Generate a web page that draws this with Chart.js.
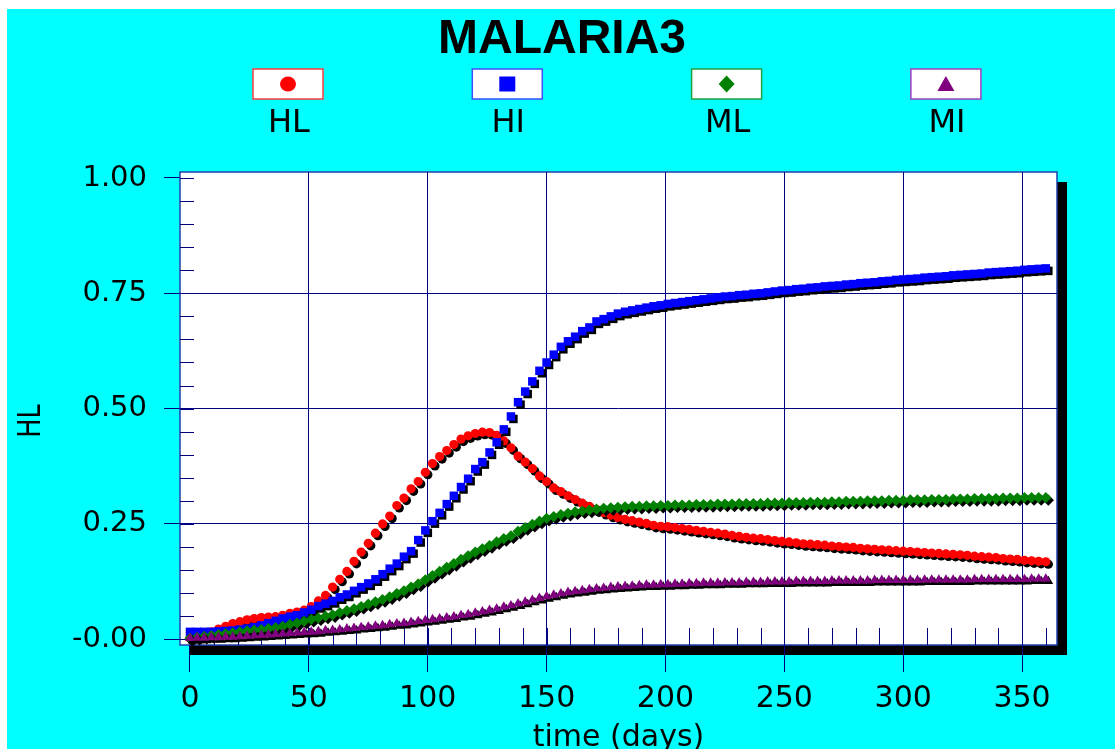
<!DOCTYPE html>
<html>
<head>
<meta charset="utf-8">
<title>MALARIA3</title>
<script src="https://cdn.jsdelivr.net/npm/chart.js@4/dist/chart.umd.min.js"></script>
<style>
  html, body { margin: 0; padding: 0; background: #ffffff; }
  #wrap { position: absolute; left: 7px; top: 9px; width: 1108px; height: 740px; }
</style>
</head>
<body>
<div id="wrap"><canvas id="malaria" width="1108" height="740"></canvas></div>
<script>
// sample times (days)
const days = [
    0, 3, 6, 9, 12, 15, 18, 21, 24, 27,
    30, 33, 36, 39, 42, 45, 48, 51, 54, 57,
    60, 63, 66, 69, 72, 75, 78, 81, 84, 87,
    90, 93, 96, 99, 102, 105, 108, 111, 114, 117,
    120, 123, 126, 129, 132, 135, 138, 141, 144, 147,
    150, 153, 156, 159, 162, 165, 168, 171, 174, 177,
    180, 183, 186, 189, 192, 195, 198, 201, 204, 207,
    210, 213, 216, 219, 222, 225, 228, 231, 234, 237,
    240, 243, 246, 249, 252, 255, 258, 261, 264, 267,
    270, 273, 276, 279, 282, 285, 288, 291, 294, 297,
    300, 303, 306, 309, 312, 315, 318, 321, 324, 327,
    330, 333, 336, 339, 342, 345, 348, 351, 354, 357,
    360
]

const hl = [
    0.002, 0.005, 0.010, 0.016, 0.022, 0.028, 0.034, 0.038, 0.042, 0.045,
    0.047, 0.048, 0.049, 0.052, 0.056, 0.059, 0.063, 0.071, 0.083, 0.095,
    0.113, 0.130, 0.147, 0.169, 0.189, 0.208, 0.230, 0.250, 0.267, 0.290,
    0.306, 0.326, 0.342, 0.362, 0.381, 0.396, 0.409, 0.422, 0.434, 0.441,
    0.446, 0.449, 0.448, 0.442, 0.430, 0.415, 0.397, 0.384, 0.370, 0.354,
    0.342, 0.328, 0.320, 0.311, 0.303, 0.295, 0.288, 0.281, 0.275, 0.269,
    0.264, 0.260, 0.257, 0.254, 0.251, 0.247, 0.245, 0.244, 0.242, 0.240,
    0.238, 0.236, 0.234, 0.232, 0.230, 0.228, 0.225, 0.223, 0.221, 0.219,
    0.218, 0.216, 0.214, 0.212, 0.211, 0.209, 0.207, 0.206, 0.205, 0.204,
    0.202, 0.201, 0.200, 0.199, 0.197, 0.196, 0.195, 0.194, 0.193, 0.192,
    0.191, 0.190, 0.189, 0.188, 0.187, 0.186, 0.185, 0.184, 0.183, 0.182,
    0.180, 0.179, 0.178, 0.177, 0.175, 0.174, 0.173, 0.171, 0.170, 0.169,
    0.168
]

const hi = [
    0.016, 0.016, 0.016, 0.016, 0.017, 0.018, 0.019, 0.021, 0.023, 0.026,
    0.030, 0.035, 0.040, 0.045, 0.049, 0.052, 0.058, 0.064, 0.072, 0.077,
    0.083, 0.091, 0.097, 0.105, 0.113, 0.121, 0.130, 0.141, 0.153, 0.164,
    0.179, 0.191, 0.215, 0.236, 0.256, 0.274, 0.293, 0.311, 0.330, 0.348,
    0.369, 0.384, 0.405, 0.427, 0.455, 0.483, 0.514, 0.537, 0.559, 0.582,
    0.600, 0.617, 0.634, 0.646, 0.656, 0.668, 0.676, 0.689, 0.694, 0.700,
    0.706, 0.710, 0.713, 0.716, 0.719, 0.722, 0.724, 0.727, 0.729, 0.731,
    0.733, 0.735, 0.737, 0.739, 0.741, 0.743, 0.744, 0.746, 0.747, 0.749,
    0.750, 0.752, 0.754, 0.756, 0.757, 0.759, 0.760, 0.762, 0.763, 0.765,
    0.766, 0.767, 0.769, 0.770, 0.772, 0.773, 0.774, 0.776, 0.777, 0.779,
    0.780, 0.781, 0.782, 0.784, 0.785, 0.786, 0.787, 0.789, 0.790, 0.791,
    0.792, 0.793, 0.795, 0.796, 0.797, 0.798, 0.799, 0.801, 0.802, 0.803,
    0.804
]

const ml = [
    0.002, 0.004, 0.006, 0.008, 0.010, 0.012, 0.014, 0.016, 0.018, 0.020,
    0.021, 0.023, 0.025, 0.028, 0.032, 0.035, 0.039, 0.043, 0.046, 0.050,
    0.053, 0.058, 0.062, 0.066, 0.071, 0.076, 0.081, 0.086, 0.092, 0.099,
    0.105, 0.113, 0.120, 0.129, 0.138, 0.147, 0.156, 0.164, 0.173, 0.181,
    0.189, 0.196, 0.203, 0.211, 0.218, 0.224, 0.234, 0.242, 0.249, 0.256,
    0.262, 0.266, 0.270, 0.273, 0.276, 0.278, 0.280, 0.282, 0.284, 0.285,
    0.286, 0.287, 0.288, 0.288, 0.289, 0.289, 0.290, 0.290, 0.291, 0.291,
    0.291, 0.292, 0.292, 0.292, 0.293, 0.293, 0.293, 0.294, 0.294, 0.294,
    0.294, 0.295, 0.295, 0.295, 0.296, 0.296, 0.296, 0.297, 0.297, 0.297,
    0.298, 0.298, 0.299, 0.299, 0.299, 0.300, 0.300, 0.300, 0.301, 0.301,
    0.301, 0.302, 0.302, 0.302, 0.303, 0.303, 0.303, 0.304, 0.304, 0.304,
    0.305, 0.305, 0.305, 0.305, 0.306, 0.306, 0.306, 0.307, 0.307, 0.307,
    0.307
]

const mi = [
    0.002, 0.003, 0.003, 0.004, 0.004, 0.005, 0.005, 0.006, 0.007, 0.008,
    0.009, 0.010, 0.011, 0.012, 0.013, 0.014, 0.015, 0.016, 0.017, 0.019,
    0.020, 0.021, 0.023, 0.024, 0.026, 0.027, 0.029, 0.030, 0.032, 0.034,
    0.035, 0.037, 0.039, 0.041, 0.043, 0.045, 0.047, 0.049, 0.052, 0.054,
    0.057, 0.060, 0.063, 0.066, 0.070, 0.073, 0.077, 0.081, 0.085, 0.089,
    0.093, 0.096, 0.099, 0.102, 0.104, 0.106, 0.108, 0.110, 0.111, 0.113,
    0.114, 0.115, 0.116, 0.117, 0.118, 0.118, 0.119, 0.119, 0.120, 0.120,
    0.121, 0.121, 0.122, 0.122, 0.122, 0.123, 0.123, 0.123, 0.124, 0.124,
    0.124, 0.125, 0.125, 0.125, 0.125, 0.126, 0.126, 0.126, 0.126, 0.126,
    0.127, 0.127, 0.127, 0.127, 0.127, 0.127, 0.128, 0.128, 0.128, 0.128,
    0.128, 0.128, 0.128, 0.129, 0.129, 0.129, 0.129, 0.129, 0.129, 0.129,
    0.130, 0.130, 0.130, 0.130, 0.130, 0.130, 0.130, 0.130, 0.131, 0.131,
    0.131
]

const chartTitle = 'MALARIA3'
const xTitle = 'time (days)'
const yTitle = 'HL'
const seriesNames = ['HL', 'HI', 'ML', 'MI']
const seriesValues = [hl, hi, ml, mi]

const xTicks = [0, 50, 100, 150, 200, 250, 300, 350]
const xTickLabels = ['0', '50', '100', '150', '200', '250', '300', '350']
const yTicks = [0, 0.25, 0.5, 0.75, 1]
const yTickLabels = ['-0.00', '0.25', '0.50', '0.75', '1.00']
const xMinorTicks = [0, 10, 20, 30, 40, 50, 60, 70, 80, 90, 100, 110, 120, 130, 140, 150, 160, 170, 180,
    190, 200, 210, 220, 230, 240, 250, 260, 270, 280, 290, 300, 310, 320, 330, 340, 350, 360]
const yMinorTicks = [0, 0.05, 0.1, 0.15, 0.2, 0.25, 0.3, 0.35, 0.4, 0.45, 0.5,
    0.55, 0.6, 0.65, 0.7, 0.75, 0.8, 0.85, 0.9, 0.95, 1]

const colors = ['#ff0000', '#0000ff', '#008000', '#800080']
const frameColors = ['#ff3c3c', '#3c50ff', '#20a040', '#a040c0']
const styles = ['circle', 'rect', 'rectRot', 'triangle']
const radii = [4.6, 6, 5.6, 5.6]
const NAVY = '#000080'

// cyan page, dropped shadow and white plot area
const backdrop = {
    id: 'backdrop',
    beforeDraw(chart) {
        const { ctx, chartArea: a } = chart
        const w = a.right - a.left, h = a.bottom - a.top
        ctx.save()
        ctx.fillStyle = '#00ffff'
        ctx.fillRect(0, 0, chart.width, chart.height)
        ctx.fillStyle = '#000000'
        ctx.fillRect(a.left + 10, a.top + 10, w, h)
        ctx.fillStyle = '#ffffff'
        ctx.fillRect(a.left, a.top, w, h)
        ctx.strokeStyle = '#2040b0'
        ctx.lineWidth = 1.5
        ctx.strokeRect(a.left, a.top, w, h)
        ctx.restore()
    }
}

const minorTicks = {
    id: 'minorTicks',
    beforeDatasetsDraw(chart) {
        const { ctx, chartArea: a, scales } = chart
        ctx.save()
        ctx.strokeStyle = NAVY
        ctx.lineWidth = 1
        ctx.beginPath()
        xMinorTicks.forEach((v) => {
            const px = Math.round(scales.x.getPixelForValue(v)) + 0.5
            ctx.moveTo(px, a.bottom)
            ctx.lineTo(px, a.bottom - 17)
        })
        yMinorTicks.forEach((v) => {
            const py = Math.round(scales.y.getPixelForValue(v)) + 0.5
            ctx.moveTo(a.left, py)
            ctx.lineTo(a.left + 14, py)
        })
        ctx.stroke()
        ctx.restore()
    }
}

// black drop shadow under every marker
const markerShadow = {
    id: 'markerShadow',
    beforeDatasetsDraw(chart) {
        const ctx = chart.ctx
        ctx.save()
        ctx.shadowColor = '#000000'
        ctx.shadowOffsetX = 2.5
        ctx.shadowOffsetY = 2.5
        ctx.shadowBlur = 0
    },
    afterDatasetsDraw(chart) {
        chart.ctx.restore()
    }
}

function legendMarker(ctx, style, cx, cy, color) {
    ctx.fillStyle = color
    ctx.beginPath()
    if (style === 'circle') {
        ctx.ellipse(cx, cy, 8, 7.5, 0, 0, Math.PI * 2)
    } else if (style === 'rect') {
        ctx.rect(cx - 8, cy - 7.5, 16, 15)
    } else if (style === 'rectRot') {
        ctx.moveTo(cx, cy - 8.5)
        ctx.lineTo(cx + 8, cy)
        ctx.lineTo(cx, cy + 8.5)
        ctx.lineTo(cx - 8, cy)
        ctx.closePath()
    } else {
        ctx.moveTo(cx, cy - 8)
        ctx.lineTo(cx + 8.5, cy + 7)
        ctx.lineTo(cx - 8.5, cy + 7)
        ctx.closePath()
    }
    ctx.fill()
}

const captions = {
    id: 'captions',
    afterDraw(chart) {
        const { ctx, chartArea: a } = chart
        ctx.save()
        ctx.fillStyle = '#000000'
        ctx.textAlign = 'center'
        ctx.textBaseline = 'alphabetic'
        ctx.font = 'bold 48px "Liberation Sans", Arial, sans-serif'
        ctx.fillText(chartTitle, chart.width / 2 + 1, 44)

        seriesNames.forEach((name, i) => {
            const cx = 281 + i * 219.3
            ctx.fillStyle = '#ffffff'
            ctx.fillRect(cx - 35, 60, 70, 30)
            ctx.strokeStyle = frameColors[i]
            ctx.lineWidth = 1.5
            ctx.strokeRect(cx - 35, 60, 70, 30)
            legendMarker(ctx, styles[i], cx, 75, colors[i])
            ctx.fillStyle = '#000000'
            ctx.font = '32px "DejaVu Sans", sans-serif'
            ctx.fillText(name, cx + 1, 123)
        })

        ctx.font = '30px "DejaVu Sans", sans-serif'
        ctx.fillText(xTitle, (a.left + a.right) / 2, 737)

        ctx.translate(24.5, 412)
        ctx.rotate(-Math.PI / 2)
        ctx.scale(0.8, 1)
        ctx.textBaseline = 'middle'
        ctx.font = '32px "DejaVu Sans", sans-serif'
        ctx.fillText(yTitle, 0, 0)
        ctx.restore()
    }
}

const datasets = seriesNames.map((name, i) => ({
    label: name,
    data: days.map((d, k) => ({ x: d, y: seriesValues[i][k] })),
    showLine: false,
    pointStyle: styles[i],
    pointRadius: radii[i],
    pointHoverRadius: radii[i],
    pointBorderWidth: 0,
    pointBackgroundColor: colors[i],
    borderColor: colors[i],
    order: 4 - i,
    clip: false
}))

const hideAt = (skip) => (c) => (c.tick && skip.includes(c.tick.value)) ? 'rgba(0,0,0,0)' : NAVY

new Chart(document.getElementById('malaria'), {
    type: 'line',
    data: { datasets: datasets },
    plugins: [backdrop, minorTicks, markerShadow, captions],
    options: {
        responsive: false,
        animation: false,
        events: [],
        layout: { padding: { top: 163, right: 58, left: 0, bottom: 0 } },
        plugins: {
            legend: { display: false },
            title: { display: false },
            tooltip: { enabled: false }
        },
        scales: {
            x: {
                type: 'linear',
                min: -4.2,
                max: 364.7,
                afterBuildTicks: (scale) => { scale.ticks = xTicks.map((v) => ({ value: v })) },
                afterFit: (scale) => { scale.height = 104 },
                ticks: {
                    padding: 9,
                    color: '#000000',
                    maxRotation: 0,
                    autoSkip: false,
                    font: { family: 'DejaVu Sans', size: 30 },
                    callback: (value, index) => xTickLabels[index]
                },
                grid: {
                    color: hideAt([0]),
                    tickColor: NAVY,
                    tickLength: 27,
                    lineWidth: 1
                },
                border: { display: false }
            },
            y: {
                type: 'linear',
                min: -0.0125,
                max: 1.013,
                afterBuildTicks: (scale) => { scale.ticks = yTicks.map((v) => ({ value: v })) },
                afterFit: (scale) => { scale.width = 173 },
                ticks: {
                    padding: 17,
                    color: '#000000',
                    autoSkip: false,
                    font: { family: 'DejaVu Sans', size: 29 },
                    callback: (value, index) => yTickLabels[index]
                },
                grid: {
                    color: hideAt([0, 1]),
                    tickColor: NAVY,
                    tickLength: 16,
                    lineWidth: 1
                },
                border: { display: false }
            }
        }
    }
})
</script>
</body>
</html>
